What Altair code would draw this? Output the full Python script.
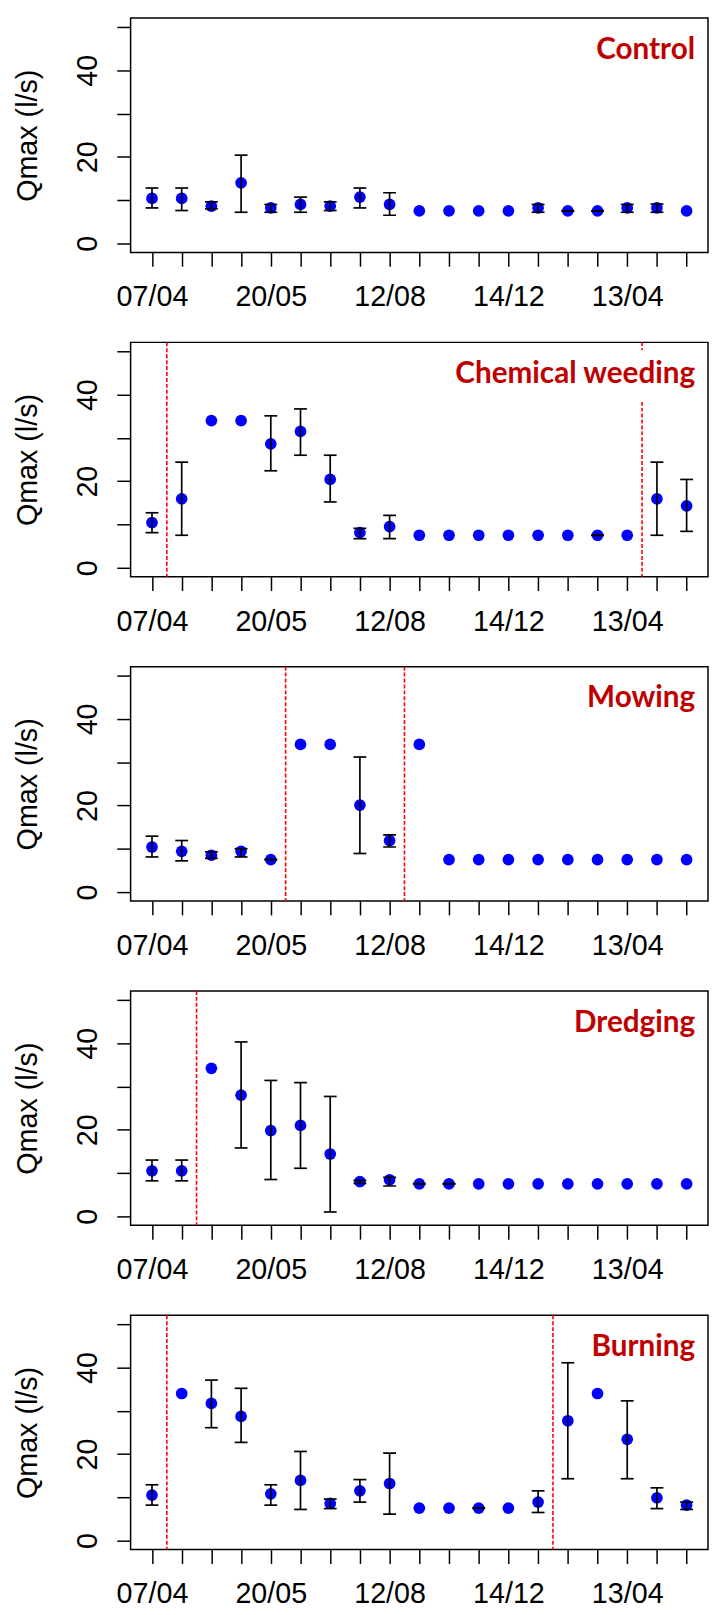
import altair as alt
import pandas as pd

# ---------------- data ----------------
x_index = list(range(19))
tick_positions = [0, 4, 8, 12, 16]
tick_labels = ["07/04", "20/05", "12/08", "14/12", "13/04"]

panel_names = ["Control", "Chemical weeding", "Mowing", "Dredging", "Burning"]

control_mean = [10.4, 10.4, 8.6, 14.0, 8.2, 9.0, 8.6, 10.7, 9.0, 7.5, 7.5, 7.5, 7.5, 8.2, 7.5, 7.5, 8.2, 8.2, 7.5]
control_lo = [8.2, 7.6, 8.0, 7.2, 7.2, 7.2, 7.6, 8.2, 6.5, None, None, None, None, 7.2, 7.45, 7.45, 7.2, 7.2, None]
control_hi = [12.8, 12.8, 9.6, 20.4, 9.0, 10.7, 9.6, 12.8, 11.7, None, None, None, None, 9.0, 7.55, 7.55, 9.0, 9.1, None]

chem_mean = [10.4, 15.9, 34.0, 34.0, 28.6, 31.5, 20.4, 8.1, 9.5, 7.5, 7.5, 7.5, 7.5, 7.5, 7.5, 7.5, 7.5, 15.9, 14.3]
chem_lo = [8.1, 7.5, None, None, 22.4, 26.0, 15.2, 6.7, 6.7, None, None, None, None, None, None, 7.45, None, 7.5, 8.4]
chem_hi = [12.7, 24.4, None, None, 35.1, 36.7, 26.0, 9.1, 12.1, None, None, None, None, None, None, 7.55, None, 24.4, 20.4]

mow_mean = [10.4, 9.4, 8.5, 9.4, 7.5, 34.1, 34.1, 20.1, 11.9, 34.1, 7.5, 7.5, 7.5, 7.5, 7.5, 7.5, 7.5, 7.5, 7.5]
mow_lo = [8.1, 7.2, 7.8, 8.1, 7.45, None, None, 8.9, 10.4, None, None, None, None, None, None, None, None, None, None]
mow_hi = [12.9, 11.9, 9.3, 10.0, 7.55, None, None, 31.2, 13.2, None, None, None, None, None, None, None, None, None, None]

dredge_mean = [10.5, 10.5, 34.2, 28.0, 19.8, 21.0, 14.4, 8.0, 8.4, 7.5, 7.5, 7.5, 7.5, 7.5, 7.5, 7.5, 7.5, 7.5, 7.5]
dredge_lo = [8.2, 8.2, None, 15.8, 8.5, 11.1, 1.0, 7.6, 7.0, 7.45, 7.45, None, None, None, None, None, None, None, None]
dredge_hi = [13.0, 13.0, None, 40.3, 31.4, 30.9, 27.7, 8.3, 9.0, 7.55, 7.55, None, None, None, None, None, None, None, None]

burn_mean = [10.5, 34.0, 31.7, 28.7, 10.8, 13.9, 8.6, 11.5, 13.2, 7.5, 7.5, 7.5, 7.5, 8.9, 27.7, 34.0, 23.4, 9.9, 8.2]
burn_lo = [8.2, None, 26.1, 22.7, 8.2, 7.2, 7.4, 8.9, 6.1, None, None, 7.45, None, 6.5, 14.3, None, 14.3, 7.4, 7.2]
burn_hi = [12.9, None, 37.1, 35.2, 12.9, 20.6, 9.6, 14.1, 20.2, None, None, 7.55, None, 11.5, 41.1, None, 32.3, 12.2, 8.9]

interventions = [[], [0.5, 16.5], [4.5, 8.5], [1.5], [0.5, 13.5]]

means = [control_mean, chem_mean, mow_mean, dredge_mean, burn_mean]
los = [control_lo, chem_lo, mow_lo, dredge_lo, burn_lo]
his = [control_hi, chem_hi, mow_hi, dredge_hi, burn_hi]

# ---------------- layout / style ----------------
W, H = 584, 237
AXIS_FONT = "Liberation Sans"
label_box_left = [461, 310, 448, 436, 453]

x_expr = "".join(f"datum.value == {p} ? '{l}' : " for p, l in zip(tick_positions, tick_labels)) + "''"

x_scale = alt.Scale(domain=[-0.72, 18.72], nice=False, zero=False)
y_scale = alt.Scale(domain=[-2.08, 52.08], nice=False, zero=False)

x_axis = alt.Axis(values=x_index, labelExpr=x_expr, tickSize=14, tickWidth=1.5, tickColor="black",
                  domain=False, grid=False, labelFont=AXIS_FONT, labelFontSize=29, labelColor="black",
                  labelPadding=40, labelBaseline="alphabetic", labelAlign="center", labelAngle=0,
                  labelOverlap=False, labelFlush=False)
y_axis = alt.Axis(values=[0, 10, 20, 30, 40, 50], labelExpr="datum.value % 20 == 0 ? datum.label : ''",
                  tickSize=14, tickWidth=1.5, tickColor="black", domain=False, grid=False,
                  labelFont=AXIS_FONT, labelFontSize=29, labelColor="black", labelPadding=20,
                  labelAngle=270, labelAlign="center", labelBaseline="alphabetic",
                  labelOverlap=False, labelFlush=False,
                  titleFont=AXIS_FONT, titleFontSize=29, titleFontWeight="normal", titleColor="black",
                  titleAngle=270, titleAlign="center", titleBaseline="alphabetic",
                  titleX=-95.5, titleY=H / 2)


def X(field):
    return alt.X(field, scale=x_scale, axis=x_axis, title=None)


def Y(field):
    return alt.Y(field, scale=y_scale, axis=y_axis, title="Qmax (l/s)")


def panel(i):
    df = pd.DataFrame({"idx": x_index, "mean": means[i], "lo": los[i], "hi": his[i]})
    base = alt.Chart(df)
    layers = []
    if interventions[i]:
        layers.append(
            alt.Chart(pd.DataFrame({"t": interventions[i]}))
            .mark_rule(color="#FF0000", strokeDash=[4, 2], strokeWidth=1.6)
            .encode(x=X("t:Q"))
        )
    layers.append(
        alt.Chart(pd.DataFrame({"name": [panel_names[i]]}))
        .mark_rect(color="white")
        .encode(x=alt.value(label_box_left[i]), x2=alt.value(580), y=alt.value(8), y2=alt.value(60))
    )
    layers.append(
        base.mark_circle(size=140, color="#0000FF", opacity=1).encode(x=X("idx:Q"), y=Y("mean:Q"))
    )
    err = base.transform_filter("isValid(datum.lo) && isValid(datum.hi)")
    layers.append(
        err.mark_rule(color="black", strokeWidth=1.7).encode(x=X("idx:Q"), y=Y("lo:Q"), y2="hi:Q")
    )
    layers.append(
        err.transform_fold(["lo", "hi"], as_=["k", "v"])
        .mark_tick(orient="horizontal", size=13, thickness=1.7, color="black", opacity=1)
        .encode(x=X("idx:Q"), y=Y("v:Q"))
    )
    layers.append(
        alt.Chart(pd.DataFrame({"name": [panel_names[i]]}))
        .mark_text(align="right", baseline="alphabetic", font="Lato", fontSize=30,
                   fontWeight="bold", color="#C00000")
        .encode(x=alt.value(571), y=alt.value(41), text="name:N")
    )
    return alt.layer(*layers).properties(width=W, height=H)


chart = (
    alt.vconcat(*[panel(i) for i in range(5)], spacing=91, bounds="flush")
    .properties(padding={"left": 4, "top": 0, "right": 0, "bottom": 0})
    .configure_view(stroke="black", strokeWidth=1.5)
)

chart.save("out.html", embed_options={"renderer": "svg", "actions": False})
